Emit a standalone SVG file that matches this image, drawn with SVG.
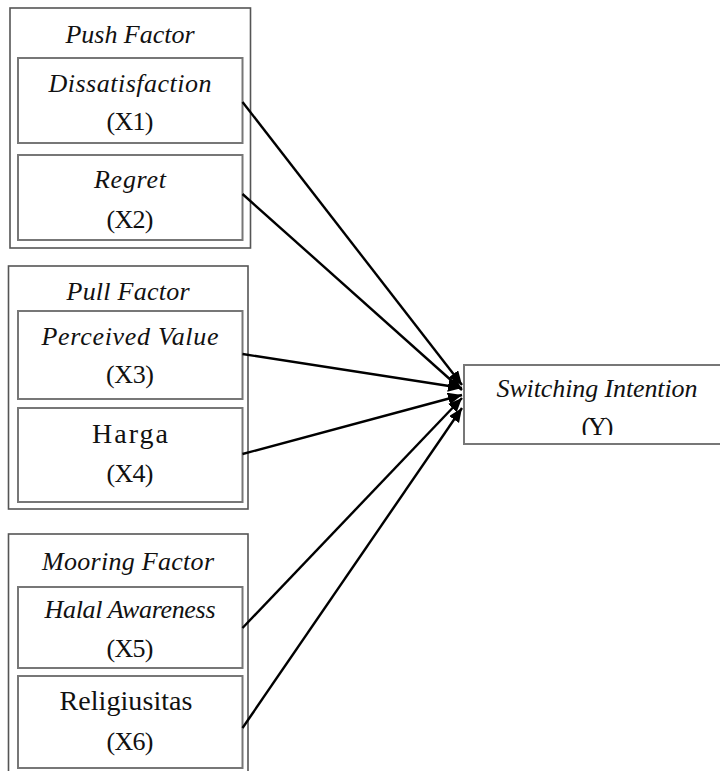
<svg xmlns="http://www.w3.org/2000/svg" width="720" height="771" viewBox="0 0 720 771">
<style>
.outer{fill:#fff;stroke:#555;stroke-width:1.6}
.inner{fill:#fff;stroke:#777;stroke-width:2}
.t{font-family:"Liberation Serif","Times New Roman",serif;fill:#111;text-anchor:middle}
.i{font-style:italic;font-size:26px}
.u{font-size:26px}
.b{font-size:28px}
.c{stroke:#000;stroke-width:2.4;fill:none;marker-end:url(#ah)}
</style>
<defs>
<marker id="ah" markerUnits="userSpaceOnUse" markerWidth="16" markerHeight="14" refX="14" refY="6" orient="auto">
<path d="M0,0 L14,6 L0,12 z" fill="#000"/>
</marker>
<clipPath id="yclip"><rect x="464" y="365" width="256" height="70"/></clipPath>
</defs>
<rect width="720" height="771" fill="#fff"/>

<g id="push-factor">
<rect class="outer" x="10" y="8" width="240.5" height="240"/>
<text class="t i" x="130" y="43" textLength="129">Push Factor</text>
</g>
<g id="x1">
<rect class="inner" x="18" y="58" width="224.5" height="85"/>
<text class="t i" x="130" y="92" textLength="163">Dissatisfaction</text>
<text class="t u" x="130" y="130" textLength="47">(X1)</text>
</g>
<g id="x2">
<rect class="inner" x="18" y="155" width="224.5" height="85"/>
<text class="t i" x="130" y="188" textLength="72">Regret</text>
<text class="t u" x="130" y="228" textLength="47">(X2)</text>
</g>

<g id="pull-factor">
<rect class="outer" x="8.5" y="266" width="239.5" height="243"/>
<text class="t i" x="128" y="300" textLength="123">Pull Factor</text>
</g>
<g id="x3">
<rect class="inner" x="18" y="311" width="224.5" height="88"/>
<text class="t i" x="130" y="345" textLength="177">Perceived Value</text>
<text class="t u" x="130" y="383" textLength="48">(X3)</text>
</g>
<g id="x4">
<rect class="inner" x="18" y="408" width="224.5" height="94"/>
<text class="t b" x="130" y="443" textLength="76">Harga</text>
<text class="t u" x="130" y="482" textLength="47">(X4)</text>
</g>

<g id="mooring-factor">
<rect class="outer" x="8.5" y="534" width="239.5" height="260"/>
<text class="t i" x="128" y="570" textLength="172">Mooring Factor</text>
</g>
<g id="x5">
<rect class="inner" x="18" y="587" width="224.5" height="81"/>
<text class="t i" x="130" y="618" textLength="171">Halal Awareness</text>
<text class="t u" x="130" y="657" textLength="47">(X5)</text>
</g>
<g id="x6">
<rect class="inner" x="18" y="676" width="224.5" height="92"/>
<text class="t b" x="126" y="710" textLength="133">Religiusitas</text>
<text class="t u" x="130" y="750" textLength="47">(X6)</text>
</g>

<g id="y">
<rect class="inner" x="464" y="365" width="260" height="79"/>
<text class="t i" x="597" y="397" textLength="201">Switching Intention</text>
<text class="t u" x="597.5" y="435" clip-path="url(#yclip)" textLength="32">(Y)</text>
</g>

<g id="connectors">
<line class="c" x1="242.5" y1="102" x2="462" y2="385"/>
<line class="c" x1="242.5" y1="194" x2="462" y2="390"/>
<line class="c" x1="242.5" y1="354" x2="462" y2="388"/>
<line class="c" x1="242.5" y1="454" x2="462" y2="395"/>
<line class="c" x1="242.5" y1="628" x2="462" y2="398"/>
<line class="c" x1="242.5" y1="728" x2="462" y2="408"/>
</g>
</svg>
